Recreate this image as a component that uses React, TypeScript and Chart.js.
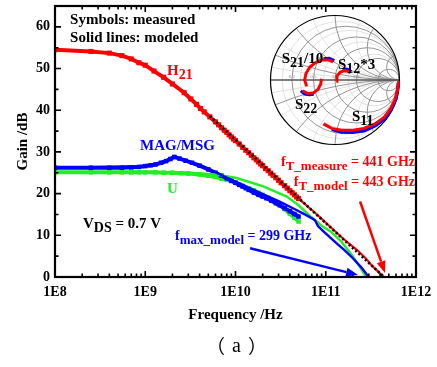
import { useEffect, useRef } from "react";
import { Chart, registerables } from "chart.js";

Chart.register(...registerables);

const GHZ = 1e9;
const FONT = '"Liberation Serif", "Times New Roman", serif';
const RED = "#ff0000";
const BLUE = "#0000ff";
const GREEN = "#22ee22";

// ---------- Gain vs frequency (frequencies in GHz, gains in dB) ----------
const h21MeasGHz = [0.1, 0.25, 0.4, 0.55, 0.7, 0.85, 1.0, 1.25, 1.6, 2.0, 2.7, 3.2, 3.7, 4.1, 4.5, 5.2, 6, 6.5, 7, 7.5, 8, 8.5, 9, 9.5, 10, 11, 12, 13, 14, 15, 16, 17, 18, 19, 20, 21.5, 23, 24.5, 26, 28, 30, 32, 35, 37.5, 40, 42.5, 45, 47.5, 50];
const h21MeasDb = [54.5, 54.1, 53.7, 53.1, 52.3, 51.4, 50.8, 49.4, 47.9, 46.3, 44.2, 42.7, 41.4, 40.4, 39.6, 38.4, 37.2, 36.5, 35.8, 35.2, 34.7, 34.1, 33.6, 33.1, 32.7, 31.9, 31.1, 30.4, 29.8, 29.2, 28.6, 28.1, 27.6, 27.1, 26.7, 26.0, 25.5, 24.9, 24.4, 23.8, 23.2, 22.6, 21.9, 21.3, 20.7, 20.2, 19.7, 19.2, 18.8];
const h21TailGHz = [50, 80, 115, 160, 224, 280, 316, 380, 441];
const h21TailDb = [18.8, 15.0, 11.8, 9.0, 6.4, 4.4, 3.0, 1.3, 0];
const h21ModelGHz = [5.2, 443];
const h21ModelDb = [38.6, 0];

const magMeasGHz = [0.1, 0.25, 0.4, 0.55, 0.7, 0.85, 1.0, 1.15, 1.3, 1.5, 1.7, 1.9, 2.1, 2.4, 2.8, 3.3, 4, 5, 6, 7, 8, 9, 10, 11, 12, 13, 14, 16, 18, 20, 22, 25, 28, 31, 35, 40, 45, 50];
const magMeasDb = [26.2, 26.2, 26.2, 26.2, 26.3, 26.4, 26.6, 26.8, 27.0, 27.4, 27.8, 28.3, 28.8, 28.4, 27.9, 27.4, 26.7, 25.8, 25.0, 24.3, 23.7, 23.1, 22.6, 22.1, 21.7, 21.3, 20.9, 20.2, 19.7, 19.3, 18.9, 18.3, 17.7, 17.2, 16.5, 15.8, 15.1, 14.5];
const magModelGHz = [0.1, 1.0, 1.5, 2.1, 4, 10, 20, 30, 45, 60, 70, 76, 82, 95, 110, 135, 160, 200, 250, 299];
const magModelDb = [26.2, 26.6, 27.4, 28.8, 26.8, 22.9, 19.9, 18.2, 16.3, 14.9, 14.1, 13.6, 12.2, 10.9, 9.6, 7.9, 6.5, 4.5, 2.2, 0];

const uMeasGHz = [0.1, 0.25, 0.4, 0.55, 0.7, 0.85, 1.0, 1.3, 1.6, 2, 2.5, 3, 4, 5, 6, 7, 8, 9, 10, 12, 14, 16, 18, 20, 23, 26, 30, 35, 40, 45, 50];
const uMeasDb = [25.1, 25.1, 25.1, 25.1, 25.1, 25.1, 25.1, 25.1, 25.0, 25.0, 24.9, 24.8, 24.6, 24.3, 24.0, 23.6, 23.3, 23.0, 22.6, 21.9, 21.3, 20.8, 20.2, 19.7, 19.0, 18.3, 17.4, 16.3, 15.2, 14.2, 13.3];
const uModelGHz = [0.1, 1, 3, 6, 10, 20, 37, 50, 68, 90, 115, 150, 190, 230, 280];
const uModelDb = [25.1, 25.1, 25.0, 24.6, 23.8, 21.8, 19.3, 17.2, 14.5, 12.3, 10.8, 8.4, 5.6, 3.0, 0];

// ---------- Smith chart inset (reflection coefficient, real / imaginary) ----------
const s11ModRe = [0.985, 0.97, 0.93, 0.86, 0.76, 0.62, 0.45, 0.28, 0.10, -0.05, -0.18];
const s11ModIm = [-0.02, -0.15, -0.30, -0.45, -0.58, -0.68, -0.75, -0.78, -0.78, -0.75, -0.68];
const s11MeasRe = [0.98, 0.95, 0.875, 0.78, 0.63, 0.45, 0.27, 0.10, -0.05];
const s11MeasIm = [-0.05, -0.28, -0.45, -0.60, -0.71, -0.79, -0.815, -0.81, -0.77];
const s22ModRe = [-0.50, -0.42, -0.33, -0.26, -0.22, -0.21];
const s22ModIm = [-0.17, -0.21, -0.20, -0.14, -0.06, 0.02];
const s22MeasRe = [-0.53, -0.47, -0.40, -0.33];
const s22MeasIm = [-0.17, -0.22, -0.23, -0.22];
const s21ModRe = [-0.44, -0.47, -0.45, -0.39, -0.30, -0.20, -0.10, -0.03];
const s21ModIm = [-0.10, 0.0, 0.10, 0.20, 0.27, 0.31, 0.31, 0.28];
const s21MeasRe = [-0.18, -0.09, -0.01];
const s21MeasIm = [0.33, 0.335, 0.30];
const s12ModRe = [0.02, 0.03, 0.08, 0.14, 0.20, 0.24];
const s12ModIm = [-0.02, 0.06, 0.12, 0.145, 0.14, 0.11];
const s12MeasRe = [0.12, 0.19, 0.255];
const s12MeasIm = [0.17, 0.165, 0.13];

const smithMajor = [0.2, 0.5, 1, 2, 5];
const smithMinor = [0.1, 0.3, 0.7, 1.5];
const smithAxisLabels = ["0.2", "0.5", "1.0", "2.0", "5.0"];

// ---------- Axes ----------
const xTickValues = [1e8, 1e9, 1e10, 1e11, 1e12];
const yTickValues = [0, 10, 20, 30, 40, 50, 60];

// ---------- Arrows (from freq Hz, gain) -> (to freq Hz, gain) ----------
const arrowFromHz = [2.4e11, 1.45e10];
const arrowFromDb = [18.1, 6.9];
const arrowToHz = [4.54e11, 2.28e11];
const arrowToDb = [0.96, 0.48];
const arrowColors = [RED, BLUE];

// ---------- Text notes ----------
type Part = [string, boolean];
const notes: { f: number; g: number; color: string; align: "left" | "right"; size: number; sub: number; parts: Part[] }[] = [
  { f: 1.47e8, g: 60.7, color: "#000", align: "left", size: 15, sub: 14, parts: [["Symbols: measured", false]] },
  { f: 1.47e8, g: 56.4, color: "#000", align: "left", size: 15, sub: 14, parts: [["Solid lines: modeled", false]] },
  { f: 1.74e9, g: 48.5, color: RED, align: "left", size: 15, sub: 14, parts: [["H", false], ["21", true]] },
  { f: 8.75e8, g: 30.5, color: BLUE, align: "left", size: 15, sub: 14, parts: [["MAG/MSG", false]] },
  { f: 1.74e9, g: 20.2, color: GREEN, align: "left", size: 15, sub: 14, parts: [["U", false]] },
  { f: 2.04e8, g: 11.8, color: "#000", align: "left", size: 15, sub: 14, parts: [["V", false], ["DS", true], [" = 0.7 V", false]] },
  { f: 2.14e9, g: 8.9, color: BLUE, align: "left", size: 14, sub: 13, parts: [["f", false], ["max_model", true], [" = 299 GHz", false]] },
  { f: 9.75e11, g: 26.6, color: RED, align: "right", size: 14, sub: 13, parts: [["f", false], ["T_measure", true], [" = 441 GHz", false]] },
  { f: 9.75e11, g: 21.8, color: RED, align: "right", size: 14, sub: 13, parts: [["f", false], ["T_model", true], [" = 443 GHz", false]] },
];
const smithNotes: { re: number; im: number; parts: Part[] }[] = [
  { re: -0.826, im: 0.264, parts: [["S", false], ["21", true], ["/10", false]] },
  { re: 0.047, im: 0.171, parts: [["S", false], ["12", true], ["*3", false]] },
  { re: -0.62, im: -0.45, parts: [["S", false], ["22", true]] },
  { re: 0.264, im: -0.636, parts: [["S", false], ["11", true]] },
];

const xy = (fs: number[], vs: number[]) => fs.map((f, i) => ({ x: f * GHZ, y: vs[i] }));
const gm = (re: number[], im: number[]) => re.map((r, i) => ({ x: r, y: im[i] }));

function drawRich(ctx: CanvasRenderingContext2D, x: number, y: number, parts: Part[], size: number, sub: number, color: string, align: "left" | "right") {
  const fMain = `bold ${size}px ${FONT}`;
  const fSub = `bold ${sub}px ${FONT}`;
  ctx.textBaseline = "alphabetic";
  ctx.textAlign = "left";
  ctx.fillStyle = color;
  let w = 0;
  for (const [t, s] of parts) {
    ctx.font = s ? fSub : fMain;
    w += ctx.measureText(t).width;
  }
  let cx = align === "right" ? x - w : x;
  for (const [t, s] of parts) {
    ctx.font = s ? fSub : fMain;
    ctx.fillText(t, cx, y + (s ? 4 : 0));
    cx += ctx.measureText(t).width;
  }
}

const smithPlugin = {
  id: "smithGrid",
  beforeDatasetsDraw(chart: any) {
    const { ctx } = chart;
    const sx = chart.scales.x2;
    const sy = chart.scales.y2;
    const cx = sx.getPixelForValue(0);
    const cy = sy.getPixelForValue(0);
    const R = sx.getPixelForValue(1) - cx;
    ctx.save();
    ctx.beginPath();
    ctx.arc(cx, cy, R, 0, Math.PI * 2);
    ctx.fillStyle = "#fff";
    ctx.fill();
    ctx.clip();
    const drawSet = (vals: number[], color: string, lw: number) => {
      ctx.strokeStyle = color;
      ctx.lineWidth = lw;
      for (const r of vals) {
        ctx.beginPath();
        ctx.arc(cx + (r / (1 + r)) * R, cy, R / (1 + r), 0, Math.PI * 2);
        ctx.stroke();
      }
      for (const xv of vals) {
        for (const sgn of [1, -1]) {
          ctx.beginPath();
          ctx.arc(cx + R, cy - (sgn / xv) * R, R / xv, 0, Math.PI * 2);
          ctx.stroke();
        }
      }
    };
    drawSet(smithMinor, "#d6d6d6", 0.7);
    drawSet(smithMajor, "#8a8a8a", 0.9);
    ctx.restore();
    ctx.save();
    ctx.strokeStyle = "#555";
    ctx.lineWidth = 1.5;
    ctx.beginPath();
    ctx.moveTo(cx - R, cy);
    ctx.lineTo(cx + R, cy);
    ctx.stroke();
    ctx.strokeStyle = "#000";
    ctx.lineWidth = 1.2;
    ctx.beginPath();
    ctx.arc(cx, cy, R, 0, Math.PI * 2);
    ctx.stroke();
    ctx.fillStyle = "#888";
    ctx.font = `5px ${FONT}`;
    ctx.textAlign = "center";
    ctx.textBaseline = "bottom";
    smithMajor.forEach((r, i) => {
      const g = (r - 1) / (r + 1);
      ctx.fillText(smithAxisLabels[i], cx + g * R, cy - 0.5);
    });
    ctx.restore();
  },
};

const framePlugin = {
  id: "frame",
  afterDatasetsDraw(chart: any) {
    const { ctx, chartArea } = chart;
    const { left, right, top, bottom } = chartArea;
    const x = chart.scales.x;
    const y = chart.scales.y;
    ctx.save();
    ctx.strokeStyle = "#000";
    ctx.lineWidth = 1.6;
    for (let d = 8; d < 12; d++) {
      for (let m = 1; m < 10; m++) {
        const px = x.getPixelForValue(m * Math.pow(10, d));
        const L = m === 1 ? 6 : 3.5;
        ctx.beginPath();
        ctx.moveTo(px, bottom);
        ctx.lineTo(px, bottom - L);
        ctx.moveTo(px, top);
        ctx.lineTo(px, top + L);
        ctx.stroke();
      }
    }
    for (let v = 0; v <= 65; v += 5) {
      const py = y.getPixelForValue(v);
      const L = v % 10 === 0 ? 6 : 3.5;
      ctx.beginPath();
      ctx.moveTo(left, py);
      ctx.lineTo(left + L, py);
      ctx.moveTo(right, py);
      ctx.lineTo(right - L, py);
      ctx.stroke();
    }
    ctx.lineWidth = 2.2;
    ctx.strokeRect(left, top, right - left, bottom - top);
    ctx.restore();
  },
};

const notesPlugin = {
  id: "notes",
  afterDatasetsDraw(chart: any) {
    const { ctx, chartArea } = chart;
    const x = chart.scales.x;
    const y = chart.scales.y;
    const sx = chart.scales.x2;
    const sy = chart.scales.y2;
    ctx.save();
    // arrows
    arrowFromHz.forEach((f0, i) => {
      const x0 = x.getPixelForValue(f0);
      const y0 = y.getPixelForValue(arrowFromDb[i]);
      const x1 = x.getPixelForValue(arrowToHz[i]);
      const y1 = y.getPixelForValue(arrowToDb[i]);
      const ang = Math.atan2(y1 - y0, x1 - x0);
      const hl = 12;
      const hw = 4.5;
      const bx = x1 - hl * Math.cos(ang);
      const by = y1 - hl * Math.sin(ang);
      ctx.strokeStyle = arrowColors[i];
      ctx.fillStyle = arrowColors[i];
      ctx.lineWidth = 2.5;
      ctx.beginPath();
      ctx.moveTo(x0, y0);
      ctx.lineTo(bx, by);
      ctx.stroke();
      ctx.beginPath();
      ctx.moveTo(x1, y1);
      ctx.lineTo(bx + hw * Math.sin(ang), by - hw * Math.cos(ang));
      ctx.lineTo(bx - hw * Math.sin(ang), by + hw * Math.cos(ang));
      ctx.closePath();
      ctx.fill();
    });
    for (const n of notes) {
      drawRich(ctx, x.getPixelForValue(n.f), y.getPixelForValue(n.g), n.parts, n.size, n.sub, n.color, n.align);
    }
    for (const n of smithNotes) {
      drawRich(ctx, sx.getPixelForValue(n.re), sy.getPixelForValue(n.im), n.parts, 15, 14, "#000", "left");
    }
    // figure caption: full-width parentheses around a serif "a"
    const cxm = (chartArea.left + chartArea.right) / 2 + 1;
    const cy = chartArea.bottom + 70;
    ctx.fillStyle = "#000";
    ctx.textBaseline = "middle";
    ctx.textAlign = "center";
    ctx.font = `20px ${FONT}`;
    ctx.fillText("a", cxm, cy);
    ctx.font = `19px "Noto Sans CJK SC"`;
    ctx.fillText("（", cxm - 21, cy);
    ctx.fillText("）", cxm + 21, cy);
    ctx.restore();
  },
};

export default function App() {
  const ref = useRef<HTMLCanvasElement>(null);
  useEffect(() => {
    const canvas = ref.current;
    if (!canvas) return;
    const line = (data: any[], color: string, width: number, order: number, extra: any = {}) => ({
      data,
      showLine: true,
      borderColor: color,
      backgroundColor: color,
      borderWidth: width,
      pointRadius: 0,
      order,
      ...extra,
    });
    const smith = { xAxisID: "x2", yAxisID: "y2" };
    const marks = { pointStyle: "rect", pointRadius: 3.2, pointBorderWidth: 0 };
    const chart = new Chart(canvas, {
      type: "scatter",
      data: {
        datasets: [
          line(xy(h21ModelGHz, h21ModelDb), "#000", 2.6, 1, { borderDash: [2, 2.4] }),
          line(xy(h21TailGHz, h21TailDb), RED, 2.2, 2),
          line(xy(h21MeasGHz, h21MeasDb), RED, 4, 3, { ...marks, pointRadius: 3.6 }),
          line(xy(magModelGHz, magModelDb), BLUE, 2.4, 4),
          line(xy(uModelGHz, uModelDb), GREEN, 2.4, 5),
          line(xy(magMeasGHz, magMeasDb), BLUE, 4, 6, marks),
          line(xy(uMeasGHz, uMeasDb), GREEN, 4, 7, marks),
          line(gm(s11ModRe, s11ModIm), RED, 3, 0, smith),
          line(gm(s22ModRe, s22ModIm), RED, 3, 0, smith),
          line(gm(s21ModRe, s21ModIm), RED, 3, 0, smith),
          line(gm(s12ModRe, s12ModIm), RED, 3, 0, smith),
          line(gm(s11MeasRe, s11MeasIm), BLUE, 3, 0.5, smith),
          line(gm(s22MeasRe, s22MeasIm), BLUE, 3, 0.5, smith),
          line(gm(s21MeasRe, s21MeasIm), BLUE, 3, 0.5, smith),
          line(gm(s12MeasRe, s12MeasIm), BLUE, 3, 0.5, smith),
        ] as any,
      },
      options: {
        animation: false,
        responsive: false,
        devicePixelRatio: 1,
        layout: { padding: { top: 6, right: 21, left: 0, bottom: 0 } },
        plugins: { legend: { display: false }, tooltip: { enabled: false } },
        scales: {
          x: {
            type: "logarithmic",
            position: "bottom",
            min: 1e8,
            max: 1e12,
            grid: { display: false, drawTicks: false },
            border: { display: false },
            ticks: {
              color: "#000",
              font: { family: FONT, size: 14, weight: "bold" },
              padding: 7,
              maxRotation: 0,
              autoSkip: false,
              callback: (v: any) => "1E" + Math.round(Math.log10(Number(v))),
            },
            afterBuildTicks: (s: any) => {
              s.ticks = xTickValues.map((v) => ({ value: v }));
            },
            afterFit: (s: any) => {
              s.height = 90;
              s.paddingLeft = 0;
              s.paddingRight = 0;
            },
            title: {
              display: true,
              text: "Frequency /Hz",
              color: "#000",
              font: { family: FONT, size: 15, weight: "bold" },
              padding: { top: 0, bottom: 43 },
            },
          },
          y: {
            type: "linear",
            position: "left",
            min: 0,
            max: 65,
            grid: { display: false, drawTicks: false },
            border: { display: false },
            ticks: {
              color: "#000",
              font: { family: FONT, size: 14, weight: "bold" },
              padding: 5,
              autoSkip: false,
            },
            afterBuildTicks: (s: any) => {
              s.ticks = yTickValues.map((v) => ({ value: v }));
            },
            afterFit: (s: any) => {
              s.width = 55;
              s.paddingTop = 0;
              s.paddingBottom = 0;
            },
            title: {
              display: true,
              text: "Gain /dB",
              color: "#000",
              font: { family: FONT, size: 15, weight: "bold" },
              padding: { top: 14, bottom: 0 },
            },
          },
          x2: { type: "linear", display: false, min: -4.341, max: 1.256 },
          y2: { type: "linear", display: false, min: -3.054, max: 1.147 },
        },
      } as any,
      plugins: [smithPlugin, framePlugin, notesPlugin],
    });
    return () => chart.destroy();
  }, []);
  return <canvas ref={ref} width={437} height={367} style={{ position: "absolute", left: 0, top: 0 }} />;
}
